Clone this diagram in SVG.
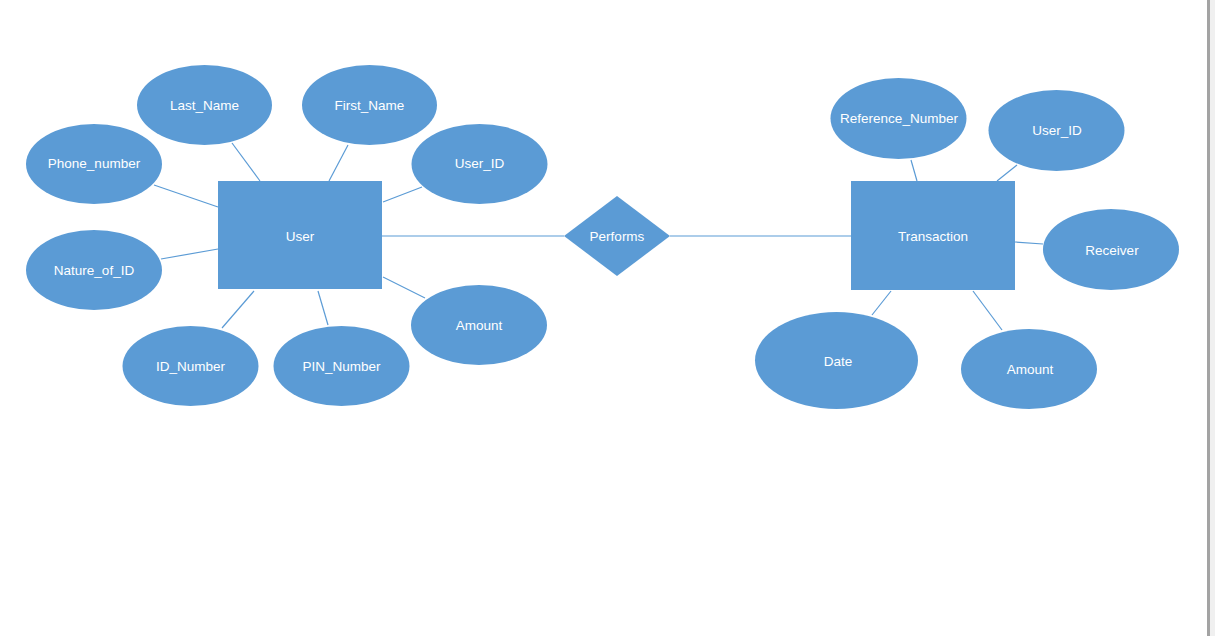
<svg xmlns="http://www.w3.org/2000/svg" width="1215" height="636" viewBox="0 0 1215 636">
<style>
.shape{fill:#5B9BD5;}
.lbl{fill:#ffffff;font-family:"Liberation Sans",Arial,sans-serif;font-size:13.5px;text-anchor:middle;dominant-baseline:central;}
.conn line{stroke:#5B9BD5;stroke-width:1.2;}
</style>
<rect x="0" y="0" width="1215" height="636" fill="#ffffff"/>
<rect x="1207" y="0" width="3" height="636" fill="#a3a3a3"/>
<rect x="1210" y="0" width="5" height="636" fill="#f0f0f0"/>
<g class="conn" id="connectors">
<line x1="232" y1="143" x2="260" y2="181"/>
<line x1="348" y1="145" x2="329" y2="181"/>
<line x1="154" y1="185" x2="218" y2="207"/>
<line x1="161" y1="259" x2="218" y2="249"/>
<line x1="222" y1="328" x2="254" y2="291"/>
<line x1="328" y1="325" x2="318" y2="291"/>
<line x1="383" y1="202" x2="422" y2="187"/>
<line x1="383" y1="277" x2="425" y2="298"/>
<line x1="382" y1="236" x2="564" y2="236"/>
<line x1="670" y1="236" x2="851" y2="236"/>
<line x1="911" y1="160" x2="917" y2="181"/>
<line x1="1017" y1="165" x2="997" y2="181"/>
<line x1="1015" y1="242" x2="1043" y2="244"/>
<line x1="891" y1="291" x2="872" y2="315"/>
<line x1="973" y1="291" x2="1002" y2="330"/>
</g>
<g id="user">
<rect class="shape" x="218" y="181" width="164" height="108"/>
<text class="lbl" x="300" y="236">User</text>
</g>
<g id="last_name">
<ellipse class="shape" cx="204.5" cy="105" rx="67.5" ry="40"/>
<text class="lbl" x="204.5" y="105">Last_Name</text>
</g>
<g id="first_name">
<ellipse class="shape" cx="369.5" cy="105" rx="67.5" ry="40"/>
<text class="lbl" x="369.5" y="105">First_Name</text>
</g>
<g id="phone_number">
<ellipse class="shape" cx="94" cy="164" rx="68" ry="40"/>
<text class="lbl" x="94" y="163">Phone_number</text>
</g>
<g id="nature_of_id">
<ellipse class="shape" cx="94" cy="270" rx="68" ry="40"/>
<text class="lbl" x="94" y="270">Nature_of_ID</text>
</g>
<g id="id_number">
<ellipse class="shape" cx="190.5" cy="366" rx="68" ry="40"/>
<text class="lbl" x="190.5" y="366">ID_Number</text>
</g>
<g id="pin_number">
<ellipse class="shape" cx="341.5" cy="366" rx="68" ry="40"/>
<text class="lbl" x="341.5" y="366">PIN_Number</text>
</g>
<g id="user_id_1">
<ellipse class="shape" cx="479.5" cy="164" rx="68" ry="40"/>
<text class="lbl" x="479.5" y="163">User_ID</text>
</g>
<g id="amount_1">
<ellipse class="shape" cx="479" cy="325" rx="68" ry="40"/>
<text class="lbl" x="479" y="325">Amount</text>
</g>
<g id="performs">
<polygon class="shape" points="617,196 670,236 617,276 564,236"/>
<text class="lbl" x="617" y="236">Performs</text>
</g>
<g id="transaction">
<rect class="shape" x="851" y="181" width="164" height="109"/>
<text class="lbl" x="933" y="236">Transaction</text>
</g>
<g id="reference_number">
<ellipse class="shape" cx="898.5" cy="118.5" rx="68" ry="40.5"/>
<text class="lbl" x="899" y="118">Reference_Number</text>
</g>
<g id="user_id_2">
<ellipse class="shape" cx="1056.5" cy="130.5" rx="68" ry="40.5"/>
<text class="lbl" x="1057" y="130">User_ID</text>
</g>
<g id="receiver">
<ellipse class="shape" cx="1111" cy="249.5" rx="68" ry="40.5"/>
<text class="lbl" x="1112" y="250">Receiver</text>
</g>
<g id="date">
<ellipse class="shape" cx="836.5" cy="360.5" rx="81.5" ry="48.5"/>
<text class="lbl" x="838" y="361">Date</text>
</g>
<g id="amount_2">
<ellipse class="shape" cx="1029" cy="369" rx="68" ry="40"/>
<text class="lbl" x="1030" y="369">Amount</text>
</g>
</svg>
